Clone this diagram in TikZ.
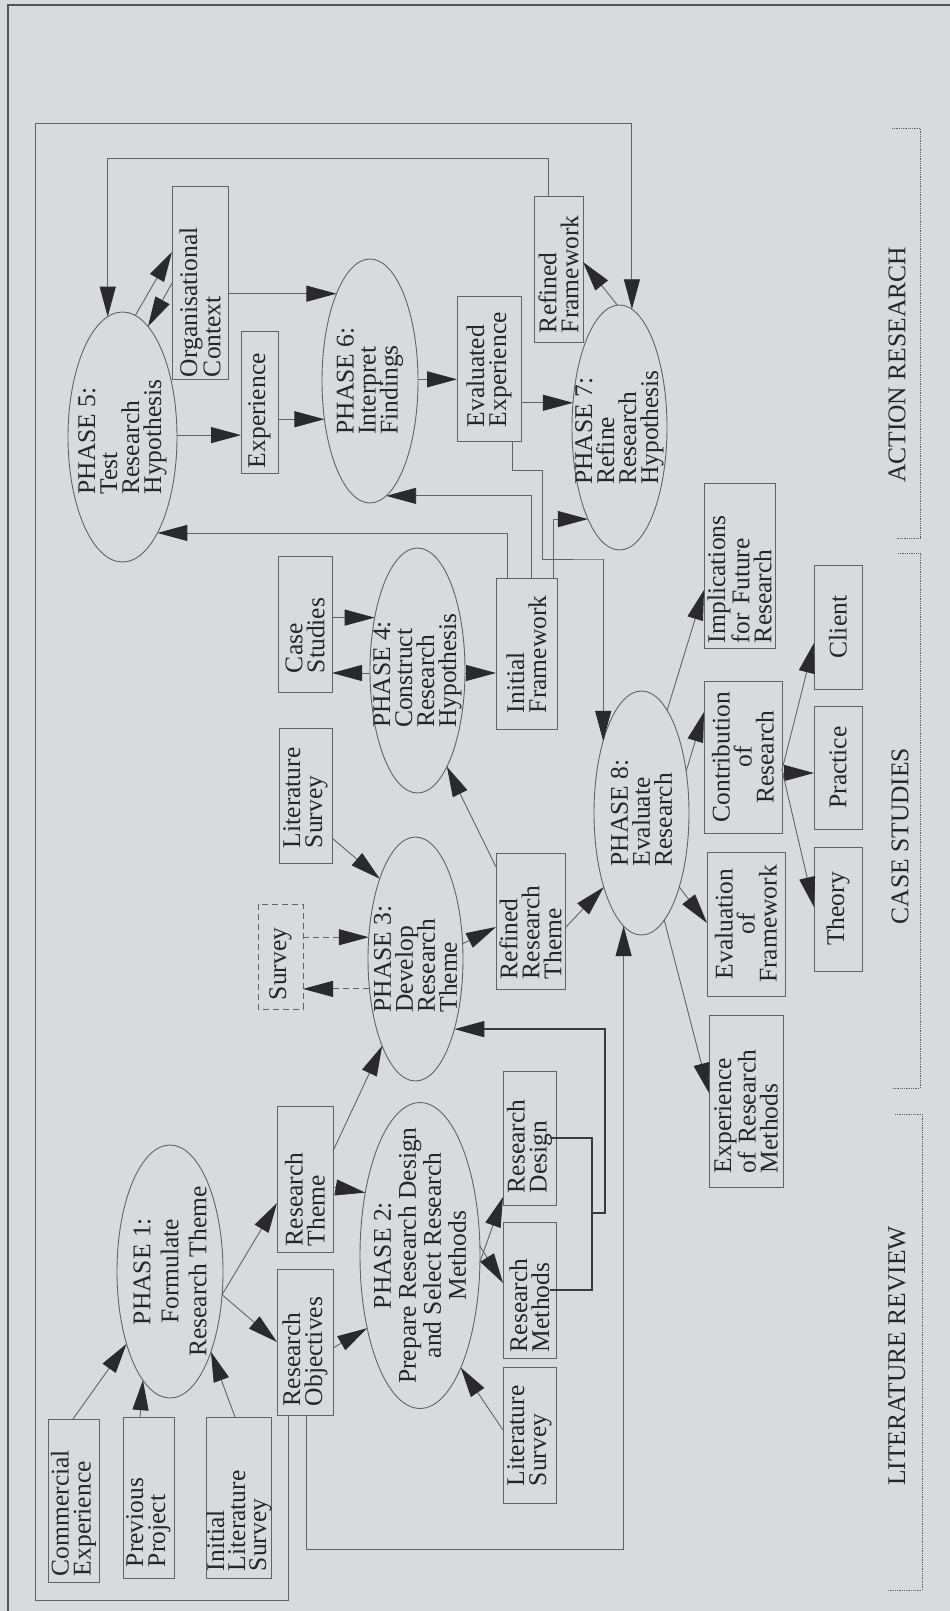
\documentclass[tikz,border=0pt]{standalone}
\usepackage{fontspec}
\setmainfont{Liberation Serif}
\usetikzlibrary{shapes.geometric,arrows.meta}
\definecolor{paper}{RGB}{216,218,221}
\definecolor{ink}{RGB}{38,38,42}
\definecolor{linec}{RGB}{98,98,103}
\definecolor{tipc}{RGB}{42,42,45}
\definecolor{brkc}{RGB}{58,58,62}
\definecolor{framec}{RGB}{85,85,90}

\tikzset{
  every node/.style={text=ink, font=\fontsize{25.5}{22}\selectfont},
  phase/.style={ellipse, draw=linec, line width=0.9pt, rotate=90, inner sep=-20pt, outer sep=0pt},
  bx/.style n args={4}{draw=linec, line width=1pt, rotate=90, inner sep=0pt, outer sep=0pt,
    minimum width=#1, minimum height=#2, text width=#3, align=#4},
  con/.style={draw=linec, line width=0.9pt, -{Triangle[length=30pt,width=16pt,color=tipc]}},
  brk/.style={draw=brkc, line width=1.6pt},
  dotbrk/.style={draw=linec, line width=0.8pt, densely dotted},
}

\begin{document}
\lineskiplimit=-50pt
\begin{tikzpicture}[x=1pt,y=-1pt]
\useasboundingbox (0,0) rectangle (950,1611);
\fill[paper] (0,0) rectangle (950,1611);
\draw[framec, line width=2.5pt] (8,1611) -- (8,5) -- (950,5);

% ---------- phases ----------
\node[phase, minimum width=253pt, minimum height=106pt, align=center,
      font=\fontsize{25.5}{28}\selectfont] (p1) at (170,1271.5)
      {PHASE 1:\\Formulate\\Research Theme};
\node[phase, minimum width=305pt, minimum height=120pt, align=center,
      font=\fontsize{25.5}{25}\selectfont] (p2) at (420,1255.5)
      {PHASE 2:\\Prepare Research Design\\and Select Research\\Methods};
\node[phase, minimum width=244pt, minimum height=95pt, align=left] (p3) at (415.5,959)
      {PHASE 3:\\Develop\\Research\\Theme};
\node[phase, minimum width=245pt, minimum height=95pt, align=left] (p4) at (417.5,670.5)
      {PHASE 4:\\Construct\\Research\\Hypothesis};
\node[phase, minimum width=250pt, minimum height=109pt, align=left] (p5) at (122.5,437)
      {PHASE 5:\\Test\\Research\\Hypothesis};
\node[phase, minimum width=244pt, minimum height=96pt, align=left] (p6) at (370,381)
      {PHASE 6:\\Interpret\\Findings};
\node[phase, minimum width=245pt, minimum height=95pt, align=left] (p7) at (619.5,427.5)
      {PHASE 7:\\Refine\\Research\\Hypothesis};
\node[phase, minimum width=244pt, minimum height=95pt, align=left] (p8) at (641.5,813)
      {PHASE 8:\\Evaluate\\Research};

% ---------- boxes ----------
\node[bx={163pt}{51pt}{151pt}{left}] (ce) at (73.5,1500.5) {Commercial\\Experience};
\node[bx={161pt}{51pt}{139pt}{left}] (pp) at (148.5,1497.5) {Previous\\Project};
\node[bx={161pt}{64pt}{147pt}{left}, font=\fontsize{25.5}{21}\selectfont]
      (ils) at (239,1497.5) {Initial\\Literature\\Survey};
\node[bx={146pt}{56pt}{134pt}{left}] (rt) at (305,1179) {Research\\Theme};
\node[bx={146pt}{56pt}{128pt}{left}] (ro) at (305,1342) {Research\\Objectives};
\node[bx={134pt}{53pt}{110pt}{left}] (rd) at (529.5,1138) {Research\\Design};
\node[bx={136pt}{53pt}{124pt}{left}] (rm) at (529.5,1290) {Research\\Methods};
\node[bx={136pt}{53pt}{102pt}{left}] (ls2) at (529.5,1435) {Literature\\Survey};
\node[bx={105pt}{45pt}{87pt}{left}, dashed, dash pattern=on 6pt off 4pt] (sv) at (280.5,956.5) {Survey};
\node[bx={135pt}{53pt}{105pt}{left}] (ls1) at (305.5,795.5) {Literature\\Survey};
\node[bx={136pt}{54pt}{98pt}{left}] (cs) at (305,624) {Case\\Studies};
\node[bx={136pt}{69pt}{116pt}{left}] (rrt) at (530.5,921) {Refined\\Research\\Theme};
\node[bx={151pt}{61pt}{119pt}{left}] (ifw) at (526.5,653.5) {Initial\\Framework};
\node[bx={193pt}{56pt}{189pt}{left}] (oc) at (200,282.5) {Organisational\\Context};
\node[bx={142pt}{37pt}{132pt}{left}] (ex) at (259.5,402) {Experience};
\node[bx={145pt}{64pt}{117pt}{left}] (ee) at (489,368.5) {Evaluated\\Experience};
\node[bx={146pt}{49pt}{128pt}{left}] (rf) at (558.5,269) {Refined\\Framework};
\node[bx={165pt}{71pt}{155pt}{left}] (ifr) at (739.5,565.5) {Implications\\for Future\\Research};
\node[bx={152pt}{78pt}{142pt}{center}] (cor) at (743,757) {Contribution\\of\\Research};
\node[bx={144pt}{78pt}{128pt}{center}] (eof) at (746,924) {Evaluation\\of\\Framework};
\node[bx={172pt}{74pt}{144pt}{left}] (erm) at (746,1101) {Experience\\of Research\\Methods};
\node[bx={124pt}{48pt}{114pt}{center}] (cl) at (838,627) {Client};
\node[bx={123pt}{48pt}{113pt}{center}] (pr) at (838,767.5) {Practice};
\node[bx={124pt}{48pt}{114pt}{center}] (th) at (838,909) {Theory};

% ---------- phase 1 and 2 ----------
\draw[con] (ce.east -| 73,0) -- (p1.149);
\draw[con] (pp.east -| 140,0) -- (p1.166);
\draw[con] (ils.east -| 235,0) -- (p1.-153);
\draw[con] (p1.-114) -- (rt.north |- 0,1203);
\draw[con] (p1.-114) -- (ro.north |- 0,1342);
\draw[con] (rt.south |- 0,1151) -- (p3.159);
\draw[con] (rt.south |- 0,1187) -- (p2.41);
\draw[con] (ro.south |- 0,1348) -- (p2.144);
\draw[con] (p2.-96) -- (rd.north |- 0,1197);
\draw[con] (p2.-81) -- (rm.north |- 0,1283);
\draw[con] (ls2.north |- 0,1430) -- (p2.-160);

% design and methods feed phase 3
\coordinate (jn) at (592,1213);
\draw[brk] ([xshift=-6pt]rd.south) -| (jn) |- ([xshift=-6pt]rm.south);
\draw[con, brk] (jn) -- ++(13,0) |- (p3.-151);

% ---------- phase 3 and 4 ----------
\draw[con, dashed, dash pattern=on 6pt off 4pt] (sv.south |- p3.65) -- (p3.65);
\draw[con, dashed, dash pattern=on 6pt off 4pt] (p3.123) -- (sv.south |- p3.123);
\draw[con] (ls1.south |- 0,838) -- (p3.24);
\draw[con] (p3.-72) -- (rrt.north |- 0,927);
\draw[con] (rrt.north |- 0,867) -- (p4.-163);
\draw[con] (rrt.south |- 0,928) -- (p8.153);
\draw[con] (cs.south |- p4.39) -- (p4.39);
\draw[con] (p4.93) -- (cs.south |- p4.93);
\draw[con] (p4.-93) -- (ifw.north |- p4.-93);

% initial framework feeds phases 5, 6 and 7
\draw[con] (ifw.east -| 507,0) |- (p5.-160);
\draw[con] (ifw.east -| 531,0) |- (p6.-172);
\draw[con] (ifw.east -| 553,0) |- (p7.161);

% ---------- phases 5 to 7 ----------
\draw[con] (p5.-88) -- (ex.north |- p5.-88);
\draw[con] (ex.south |- p6.130) -- (p6.130);
\draw[con] (p5.-6) -- (oc.north |- 0,252);
\draw[con] (oc.north |- 0,283) -- (p5.-13);
\draw[con] (oc.south |- p6.21) -- (p6.21);
\draw[con] (p6.-88) -- (ee.north |- p6.-88);
\draw[con] (ee.south |- p7.62) -- (p7.62);
\draw[con] (p7.1) -- (rf.south |- 0,262);
\draw[con] (rf.east -| 548,0) -- ++(0,-38) -| (p5.7);
\draw[con] (ee.west -| 512,0) |- (542,470) |- (603,559) -| (p8.28);

% long feedback routes from the research objectives
\draw[con] (ro.west -| 288,0) -- (288,1600) -| (35,123) -| (p7.-6);
\draw[con] (ro.west -| 306,0) -- (306,1549) -| (p8.171);

% ---------- phase 8 ----------
\draw[con] (p8.-14) -- (ifr.north |- 0,590);
\draw[con] (p8.-47) -- (cor.north |- 0,712);
\draw[con] (p8.-153) -- (eof.north |- 0,923);
\draw[con] (p8.-168) -- (erm.north |- 0,1093);
\draw[con] (cor.south |- 0,770) -- (cl.north |- 0,643);
\draw[con] (cor.south |- 0,773) -- (pr.north |- 0,773);
\draw[con] (cor.south |- 0,770) -- (th.north |- 0,907);

% ---------- stage brackets ----------
\draw[dotbrk] (892,128) -- (920,128) -- (920,538) -- (897,538);
\draw[dotbrk] (898,553) -- (920,553) -- (920,1088) -- (892,1088);
\draw[dotbrk] (895,1114) -- (922,1114) -- (922,1590) -- (888,1590);
\node[rotate=90] (lab1) at (897,365) {ACTION RESEARCH};
\node[rotate=90] (lab2) at (900,836) {CASE STUDIES};
\node[rotate=90] (lab3) at (897,1356) {LITERATURE REVIEW};
\end{tikzpicture}
\end{document}
